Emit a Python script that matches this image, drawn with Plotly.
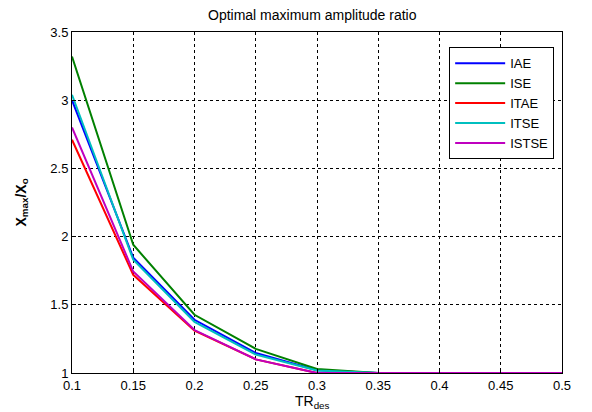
import plotly.graph_objects as go

# Design rise time values (TR_des)
tr_des = [0.10, 0.15, 0.20, 0.25, 0.30, 0.35, 0.40, 0.45, 0.50]

# Optimal maximum amplitude ratio X_max/X_o for each criterion
iae = [3.00, 1.845, 1.39, 1.147, 1.02, 1.0, 1.0, 1.0, 1.0]
ise = [3.32, 1.94, 1.427, 1.177, 1.03, 1.0, 1.0, 1.0, 1.0]
itae = [2.71, 1.72, 1.31, 1.10, 1.0, 1.0, 1.0, 1.0, 1.0]
itse = [3.04, 1.83, 1.374, 1.135, 1.018, 1.0, 1.0, 1.0, 1.0]
istse = [2.80, 1.744, 1.315, 1.10, 1.0, 1.0, 1.0, 1.0, 1.0]

series = [
    ("IAE", iae, "#0000ff"),
    ("ISE", ise, "#008000"),
    ("ITAE", itae, "#ff0000"),
    ("ITSE", itse, "#00bfbf"),
    ("ISTSE", istse, "#bf00bf"),
]

x_ticks = [0.1, 0.15, 0.2, 0.25, 0.3, 0.35, 0.4, 0.45, 0.5]
x_tick_text = ["0.1", "0.15", "0.2", "0.25", "0.3", "0.35", "0.4", "0.45", "0.5"]
y_ticks = [1, 1.5, 2, 2.5, 3, 3.5]
y_tick_text = ["1", "1.5", "2", "2.5", "3", "3.5"]

fig = go.Figure()
for name, vals, color in series:
    fig.add_trace(go.Scatter(
        x=tr_des, y=vals, mode="lines", name=name,
        line=dict(color=color, width=2),
    ))

font = "Arial, Liberation Sans, sans-serif"
axis_common = dict(
    showline=True, linecolor="black", linewidth=1, mirror=True,
    showgrid=True, gridcolor="black", gridwidth=1, griddash="3px,3px",
    zeroline=False, ticks="inside", ticklen=4, tickcolor="black",
    tickfont=dict(family=font, size=13, color="black"),
)

fig.update_layout(
    width=592, height=412,
    margin=dict(l=72, r=30, t=32, b=39),
    paper_bgcolor="white", plot_bgcolor="white",
    showlegend=True,
    legend=dict(
        x=0.984, y=0.955, xanchor="right", yanchor="top",
        bgcolor="white", bordercolor="black", borderwidth=1,
        font=dict(family=font, size=13, color="black"),
        itemwidth=50, tracegroupgap=0,
    ),
    xaxis=dict(range=[0.1, 0.5], tickvals=x_ticks, ticktext=x_tick_text, **axis_common),
    yaxis=dict(range=[1, 3.5], tickvals=y_ticks, ticktext=y_tick_text, **axis_common),
    annotations=[
        dict(text="Optimal maximum amplitude ratio", xref="paper", yref="paper",
             x=0.49, y=1, yshift=7, xanchor="center", yanchor="bottom", showarrow=False,
             font=dict(family=font, size=14, color="black")),
        dict(text="TR<sub>des</sub>", xref="paper", yref="paper",
             x=0.49, y=0, yshift=-18, xanchor="center", yanchor="top", showarrow=False,
             font=dict(family=font, size=14, color="black")),
        dict(text="<b>X<sub>max</sub>/X<sub>o</sub></b>", xref="paper", yref="paper",
             x=0, y=0.5, xshift=-40, xanchor="right", yanchor="middle", textangle=-90,
             showarrow=False, font=dict(family=font, size=14, color="black")),
    ],
)

fig.write_html("out.html")
